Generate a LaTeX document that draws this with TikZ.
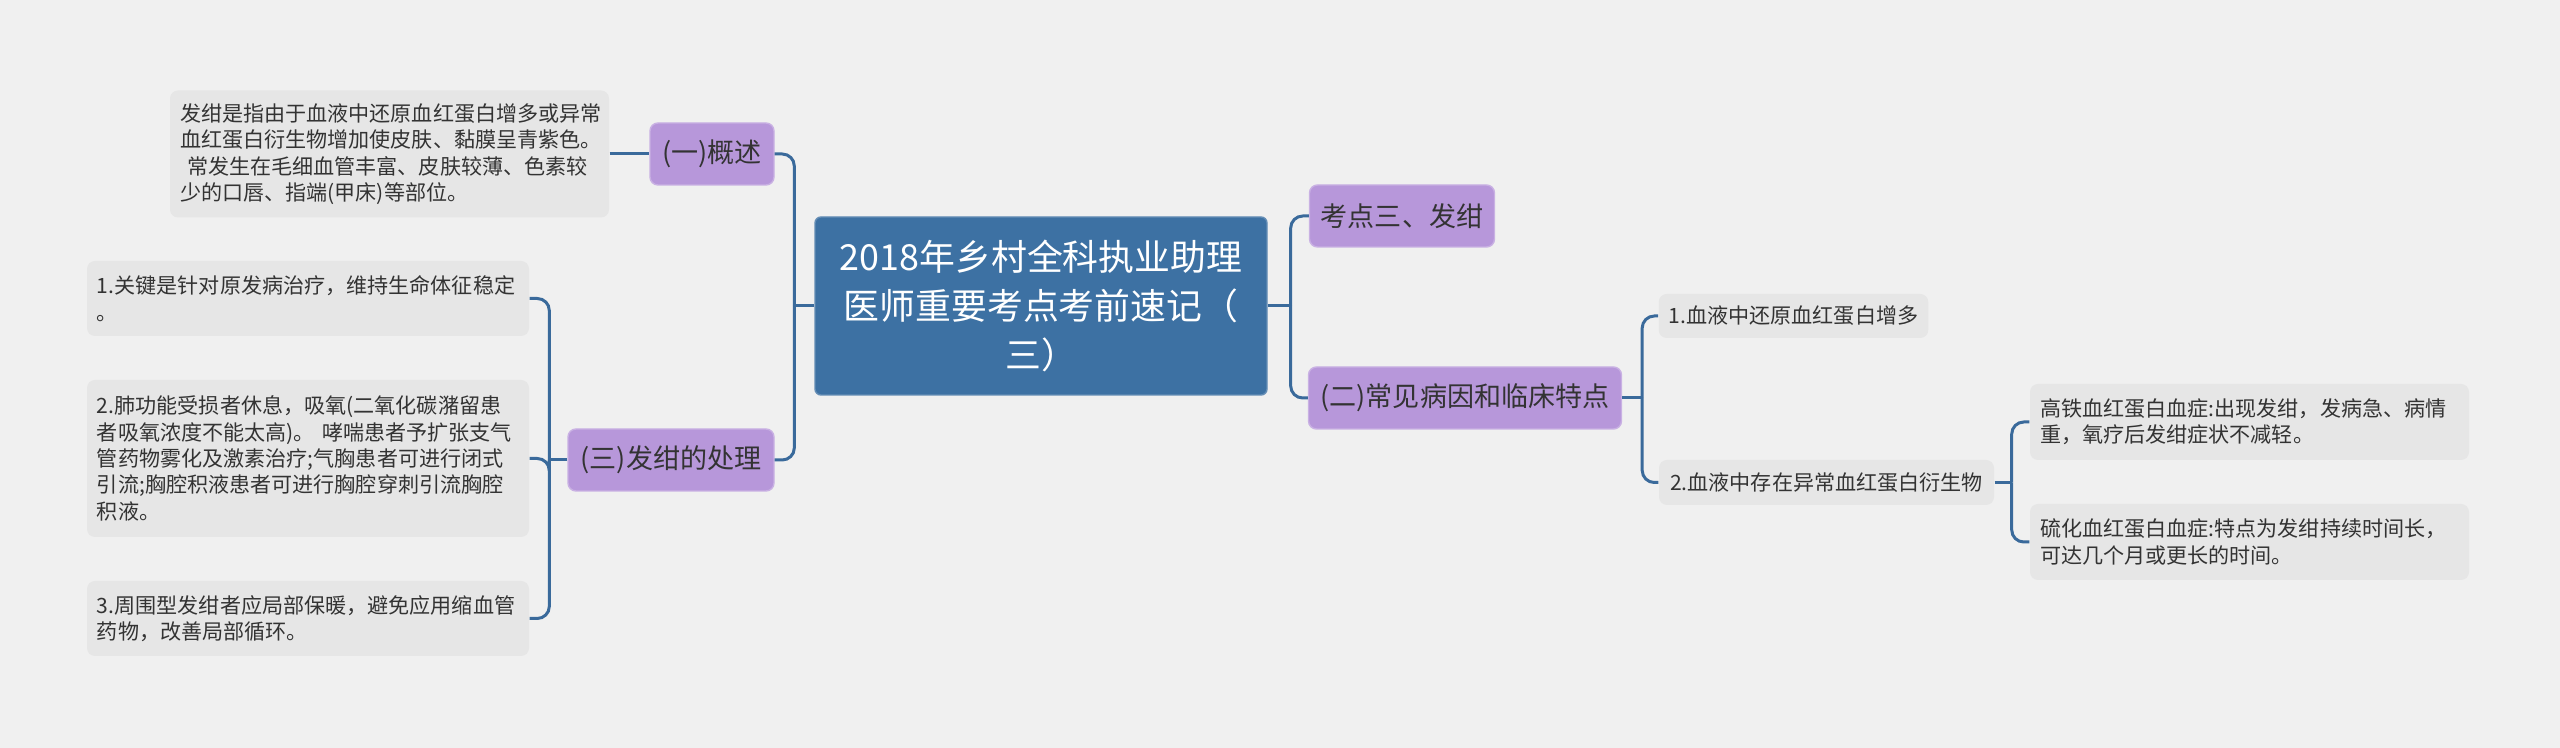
\documentclass[tikz,border=0pt]{standalone}
\usepackage{fontspec}
\newfontfamily\cjk{Noto Sans CJK SC}
\definecolor{bgcol}{HTML}{F0F0F0}
\definecolor{rootcol}{HTML}{3D71A3}
\definecolor{subcol}{HTML}{B797DA}
\definecolor{leafcol}{HTML}{E6E6E6}
\definecolor{linecol}{HTML}{3A6A9B}
\definecolor{textcol}{HTML}{333333}
\tikzset{
    rootbox/.style={fill=rootcol, draw=rootcol!80!white, text=white, rounded corners=0.06cm,
        align=center, inner sep=0pt, minimum width=4.52cm, minimum height=1.78cm,
        font=\cjk\fontsize{10.2}{13.9}\selectfont},
    subbox/.style={fill=subcol, draw=subcol!75!white, text=textcol, rounded corners=0.08cm,
        inner sep=0pt, minimum height=0.62cm, font=\cjk\fontsize{7.7}{9}\selectfont},
    leafbox/.style={fill=leafcol, text=textcol, rounded corners=0.08cm, align=left,
        inner xsep=0.1cm, inner ysep=0pt, font=\cjk\fontsize{6}{7.5}\selectfont},
    link/.style={draw=linecol, line width=0.85pt, rounded corners=0.12cm},
}
\begin{document}
\begin{tikzpicture}
    \useasboundingbox (0, 0) rectangle (25.6, 7.48);
    \fill[bgcol] (0, 0) rectangle (25.6, 7.48);

    \node[rootbox] (root) at (10.41, 4.42) {2018年乡村全科执业助理\\医师重要考点考前速记（\\三）};

    \node[subbox, minimum width=1.85cm] (kaodian) at (14.02, 5.32) {考点三、发绀};
    \node[subbox, minimum width=3.13cm] (bingyin) at (14.65, 3.50) {(二)常见病因和临床特点};
    \node[subbox, minimum width=1.24cm] (gaishu) at (7.12, 5.94) {(一)概述};
    \node[subbox, minimum width=2.06cm] (chuli) at (6.71, 2.88) {(三)发绀的处理};

    \node[leafbox, text width=4.19cm, minimum height=1.27cm] (desc) at (3.895, 5.94)
        {发绀是指由于血液中还原血红蛋白增多或异常\\血红蛋白衍生物增加使皮肤、黏膜呈青紫色。\\\ 常发生在毛细血管丰富、皮肤较薄、色素较\\少的口唇、指端(甲床)等部位。};

    \node[leafbox, text width=4.22cm, minimum height=0.75cm] (chuli1) at (3.08, 4.495)
        {1.关键是针对原发病治疗，维持生命体征稳定\\。};
    \node[leafbox, text width=4.22cm, minimum height=1.57cm] (chuli2) at (3.08, 2.895)
        {2.肺功能受损者休息，吸氧(二氧化碳潴留患\\者吸氧浓度不能太高)。 哮喘患者予扩张支气\\管药物雾化及激素治疗;气胸患者可进行闭式\\引流;胸腔积液患者可进行胸腔穿刺引流胸腔\\积液。};
    \node[leafbox, text width=4.22cm, minimum height=0.75cm] (chuli3) at (3.08, 1.295)
        {3.周围型发绀者应局部保暖，避免应用缩血管\\药物，改善局部循环。};

    \node[leafbox, minimum width=2.69cm, minimum height=0.44cm] (bingyin1) at (17.935, 4.32)
        {1.血液中还原血红蛋白增多};
    \node[leafbox, minimum width=3.35cm, minimum height=0.45cm] (bingyin2) at (18.265, 2.655)
        {2.血液中存在异常血红蛋白衍生物};

    \node[leafbox, text width=4.19cm, minimum height=0.76cm] (gaotie) at (22.495, 3.26)
        {高铁血红蛋白血症:出现发绀，发病急、病情\\重，氧疗后发绀症状不减轻。};
    \node[leafbox, text width=4.19cm, minimum height=0.76cm] (liuhua) at (22.495, 2.06)
        {硫化血红蛋白血症:特点为发绀持续时间长，\\可达几个月或更长的时间。};

    % Draw the edges between nodes
    \draw[link] (root.east) -- ++(0.23, 0) coordinate (jr);
    \draw[link] (kaodian.west) -| (jr);
    \draw[link] (bingyin.west) -| (jr);

    \draw[link] (root.west) -- ++(-0.2, 0) coordinate (jl);
    \draw[link] (gaishu.east) -| (jl);
    \draw[link] (chuli.east) -| (jl);

    \draw[link] (desc.east) -- (gaishu.west);

    \draw[link] (chuli.west) -- ++(-0.18, 0) coordinate (jc);
    \draw[link] (chuli1.east) -| (jc);
    \draw[link] (chuli2.east) -| (jc);
    \draw[link] (chuli3.east) -| (jc);

    \draw[link] (bingyin.east) -- ++(0.2, 0) coordinate (jb);
    \draw[link] (bingyin1.west) -| (jb);
    \draw[link] (bingyin2.west) -| (jb);

    \draw[link] (bingyin2.east) -- ++(0.17, 0) coordinate (jd);
    \draw[link] (gaotie.west) -| (jd);
    \draw[link] (liuhua.west) -| (jd);
\end{tikzpicture}
\end{document}
